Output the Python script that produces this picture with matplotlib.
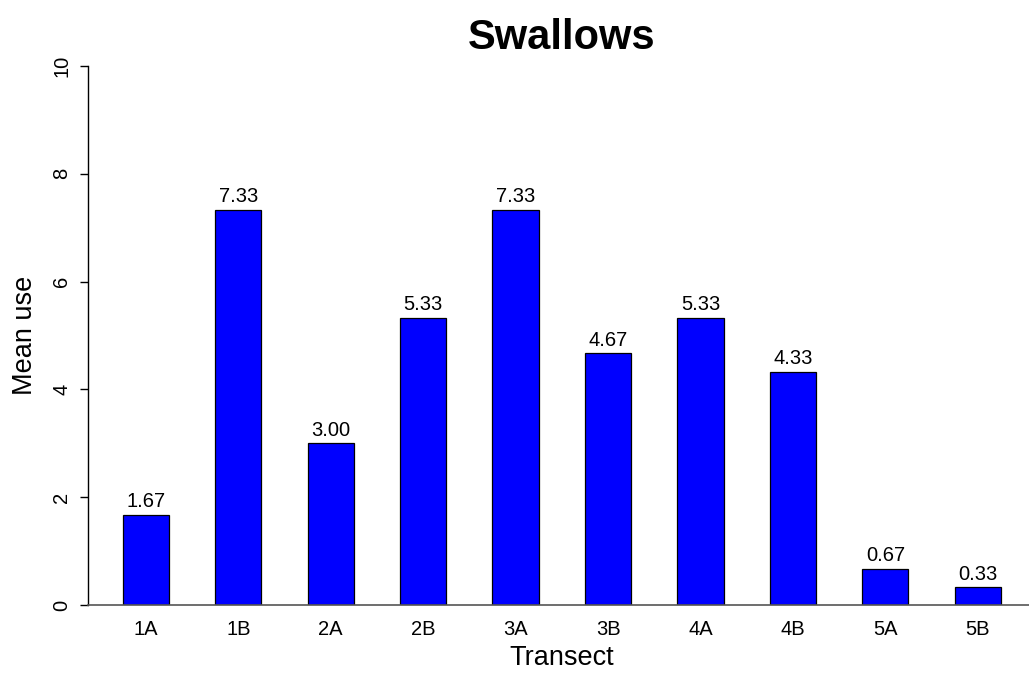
import matplotlib.pyplot as plt

plt.rcParams['font.family'] = ['Liberation Sans', 'DejaVu Sans']

# Data
transects = ['1A', '1B', '2A', '2B', '3A', '3B', '4A', '4B', '5A', '5B']
mean_use = [1.67, 7.33, 3.00, 5.33, 7.33, 4.67, 5.33, 4.33, 0.67, 0.33]
y_ticks = [0, 2, 4, 6, 8, 10]

fig = plt.figure(figsize=(10.29, 6.73), dpi=100)
# plot region laid out like an R barplot (space = 1), slightly cropped on the right
ax = fig.add_axes([87.6 / 1029, 68 / 673, (1036 - 87.6) / 1029, (605 - 44.4) / 673])

# bar centres as in R barplot with width 1, space 1
centers = [2 * i + 1.5 for i in range(len(transects))]
ax.bar(centers, mean_use, width=1.0, color='#0000FF', edgecolor='black', linewidth=0.9, zorder=2)
ax.axhline(0, color='#555555', linewidth=1.2, zorder=3, clip_on=False)

for x, v in zip(centers, mean_use):
    ax.annotate(f'{v:.2f}', (x, v), xytext=(0, 5.5), textcoords='offset points',
                ha='center', va='baseline', fontsize=14.5)

ax.set_xlim(0.24, 20.76)
ax.set_ylim(0, 10.4)

for s in ['top', 'right', 'bottom']:
    ax.spines[s].set_visible(False)
ax.spines['left'].set_bounds(0, 10)
ax.spines['left'].set_linewidth(1.0)

ax.set_yticks(y_ticks)
ax.set_yticklabels([str(t) for t in y_ticks], rotation=90, va='center')
ax.tick_params(axis='y', length=5.8, width=1.0, pad=6, labelsize=14.5)
ax.set_xticks(centers)
ax.set_xticklabels(transects)
ax.tick_params(axis='x', length=0, pad=11, labelsize=14.5)

fig.text(562 / 1029, (673 - 49) / 673, 'Swallows', ha='center', va='baseline',
         fontsize=30, fontweight='bold')
fig.text(562 / 1029, (673 - 658) / 673, 'Transect', ha='center', va='center', fontsize=19.5)
fig.text(25 / 1029, (673 - 335) / 673, 'Mean use', ha='center', va='center',
         rotation=90, fontsize=19.5)

fig.savefig('out.png', dpi=100)
